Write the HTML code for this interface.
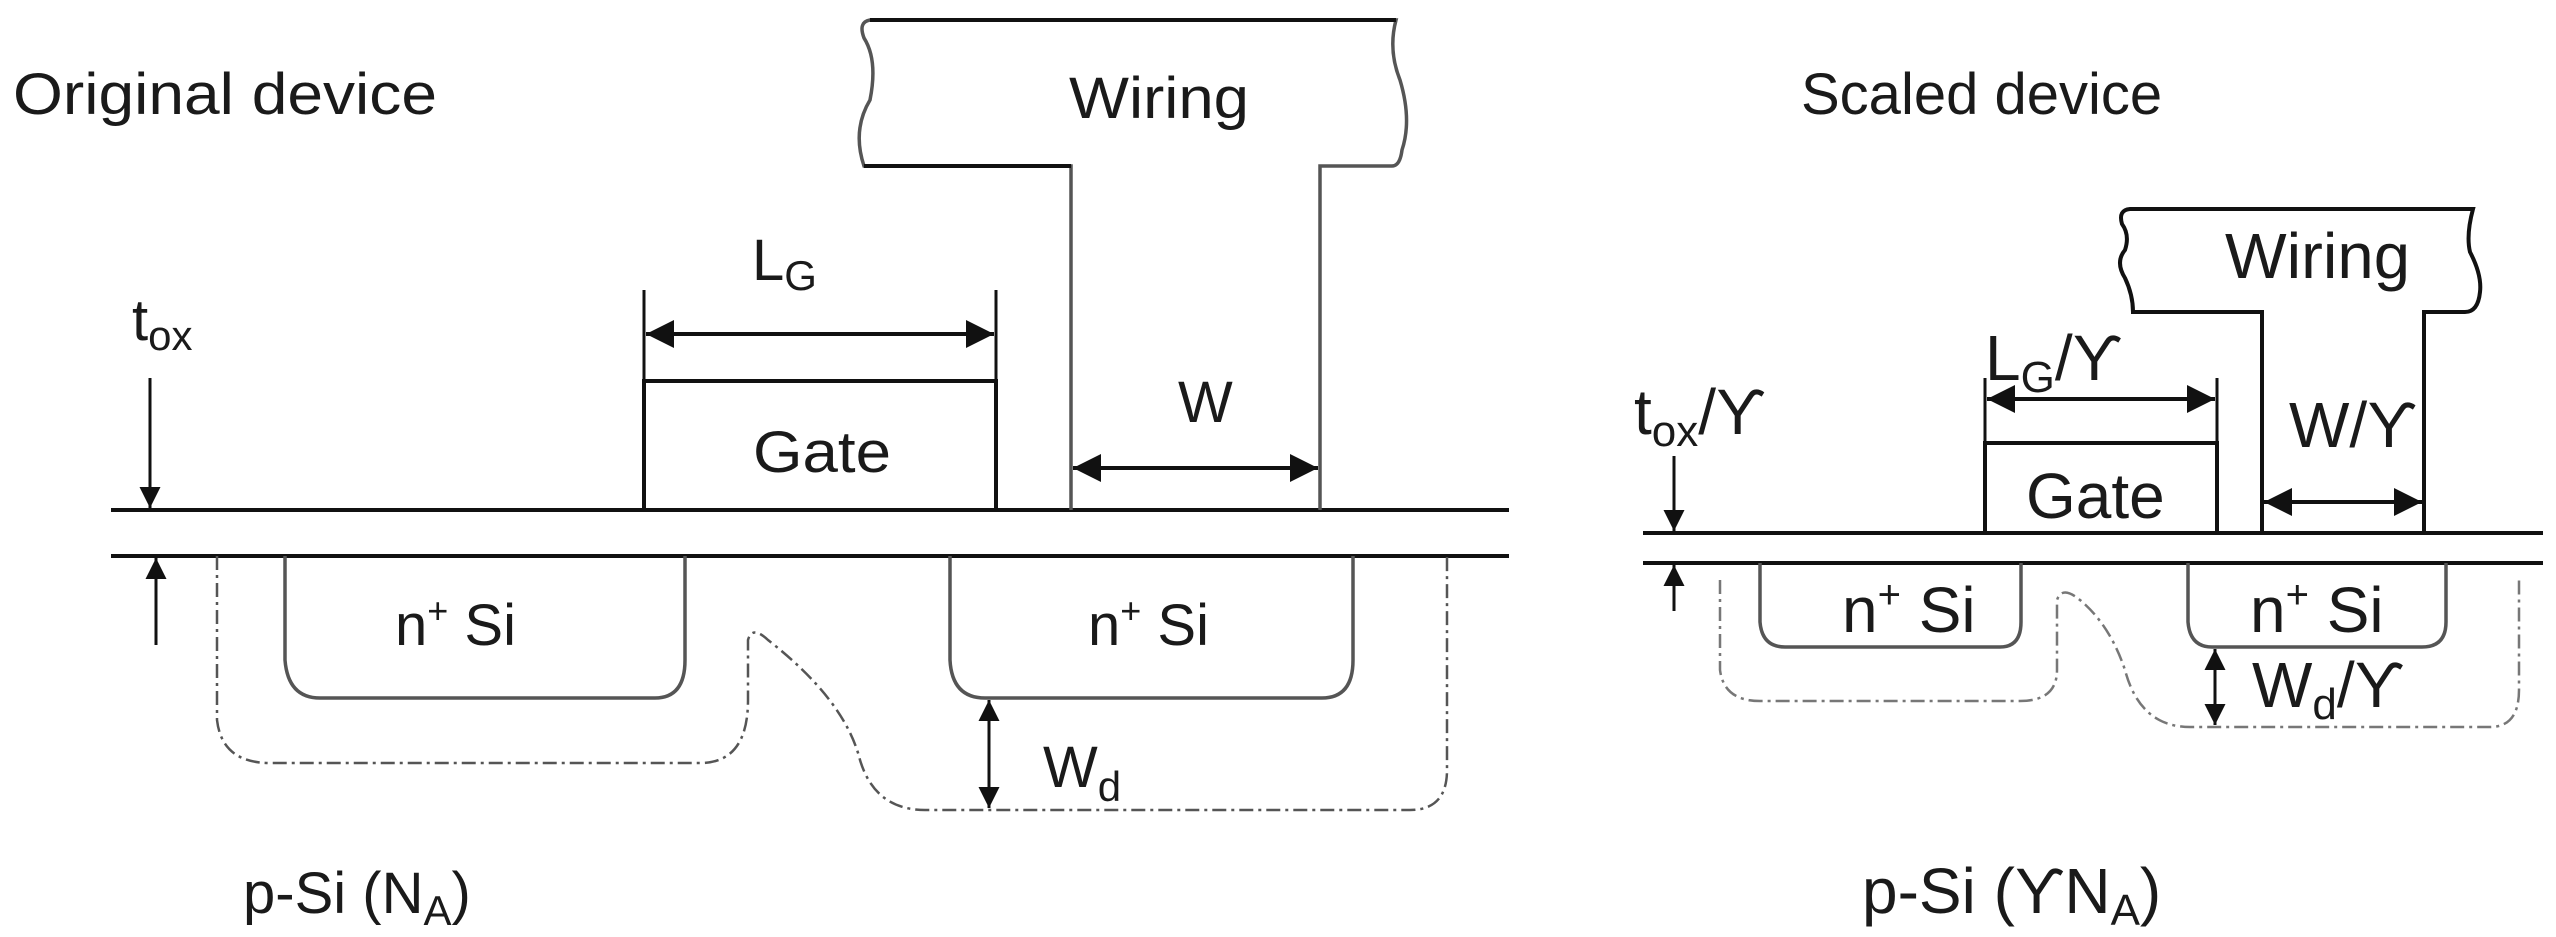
<!DOCTYPE html>
<html><head><meta charset="utf-8"><style>html,body{margin:0;padding:0;background:#fff}svg{display:block}</style></head>
<body>
<svg width="2556" height="937" viewBox="0 0 2556 937" xmlns="http://www.w3.org/2000/svg" font-family="Liberation Sans, sans-serif" fill="#1a1a1a">
<defs>
<marker id="ah" viewBox="0 0 10 10" refX="10" refY="5" markerWidth="7" markerHeight="7" orient="auto-start-reverse" markerUnits="strokeWidth"><path d="M0,0 L10,5 L0,10 z" fill="#111"/></marker>
</defs>
<g stroke="#111" stroke-width="4" fill="none">
<!-- LEFT DEVICE -->
<line x1="111" y1="510" x2="1509" y2="510"/>
<line x1="111" y1="556" x2="1509" y2="556"/>
<path d="M1071,510 V166 H864 Q852,130 870,100 Q878,60 864,38 Q858,22 870,20 H1396 Q1388,50 1400,80 Q1412,120 1402,150 Q1400,166 1392,166 H1320 V510" stroke="#555" stroke-width="3.5"/>
<path d="M864,166 H1071 M870,20 H1396" />
<rect x="644" y="381" width="352" height="129"/>
<line x1="644" y1="290" x2="644" y2="381" stroke-width="3"/>
<line x1="996" y1="290" x2="996" y2="381" stroke-width="3"/>
<line x1="646" y1="334" x2="994" y2="334" marker-start="url(#ah)" marker-end="url(#ah)"/>
<line x1="1073" y1="468" x2="1318" y2="468" marker-start="url(#ah)" marker-end="url(#ah)"/>
<line x1="150" y1="378" x2="150" y2="508" stroke-width="3" marker-end="url(#ah)"/>
<line x1="156" y1="645" x2="156" y2="558" stroke-width="3" marker-end="url(#ah)"/>
<path d="M285,556 V660 Q288,698 320,698 H655 Q685,698 685,660 V556" stroke="#555" stroke-width="3.5"/>
<path d="M950,556 V660 Q952,698 985,698 H1322 Q1353,698 1353,660 V556" stroke="#555" stroke-width="3.5"/>
<path d="M217,556 V720 Q222,763 270,763 H700 Q748,763 748,700 V640 Q752,625 768,640 Q845,700 860,760 Q875,810 925,810 H1410 Q1447,810 1447,770 V556" stroke="#555" stroke-width="2.5" stroke-dasharray="14,5,3,5"/>
<line x1="989" y1="700" x2="989" y2="808" stroke-width="3" marker-start="url(#ah)" marker-end="url(#ah)"/>

<!-- RIGHT DEVICE -->
<line x1="1643" y1="533" x2="2543" y2="533"/>
<line x1="1643" y1="563" x2="2543" y2="563"/>
<path d="M2262,533 V312 H2133 Q2133,295 2125,278 Q2115,262 2125,250 Q2130,235 2122,224 Q2118,210 2130,209 H2473 Q2466,235 2470,252 Q2482,275 2480,292 Q2478,312 2465,312 H2424 V533"/>
<rect x="1985" y="443" width="232" height="90"/>
<line x1="1985" y1="378" x2="1985" y2="443" stroke-width="3"/>
<line x1="2217" y1="378" x2="2217" y2="443" stroke-width="3"/>
<line x1="1987" y1="399" x2="2215" y2="399" marker-start="url(#ah)" marker-end="url(#ah)"/>
<line x1="2264" y1="502" x2="2422" y2="502" marker-start="url(#ah)" marker-end="url(#ah)"/>
<line x1="1674" y1="456" x2="1674" y2="531" stroke-width="3" marker-end="url(#ah)"/>
<line x1="1674" y1="611" x2="1674" y2="565" stroke-width="3" marker-end="url(#ah)"/>
<path d="M1760,563 V622 Q1762,647 1785,647 H2000 Q2021,647 2021,622 V563" stroke="#555" stroke-width="3.5"/>
<path d="M2188,563 V622 Q2190,647 2212,647 H2422 Q2446,647 2446,622 V563" stroke="#555" stroke-width="3.5"/>
<path d="M1720,580 V670 Q1724,701 1760,701 H2020 Q2057,701 2057,670 V600 Q2062,585 2080,600 Q2110,625 2125,670 Q2140,727 2190,727 H2490 Q2519,727 2519,690 V580" stroke="#777" stroke-width="2.5" stroke-dasharray="14,5,3,5"/>
<line x1="2215" y1="649" x2="2215" y2="725" stroke-width="3" marker-start="url(#ah)" marker-end="url(#ah)"/>
</g>

<g font-size="58">
<text x="13" y="114" textLength="424" lengthAdjust="spacingAndGlyphs">Original device</text>
<text x="1069" y="118" textLength="180" lengthAdjust="spacingAndGlyphs">Wiring</text>
<text x="752" y="280">L<tspan font-size="42" dy="10">G</tspan></text>
<text x="132" y="340">t<tspan font-size="42" dy="10">ox</tspan></text>
<text x="753" y="472" textLength="138" lengthAdjust="spacingAndGlyphs">Gate</text>
<text x="1178" y="422">W</text>
<text x="395" y="645">n<tspan font-size="36" dy="-22">+</tspan><tspan dy="22"> Si</tspan></text>
<text x="1088" y="645">n<tspan font-size="36" dy="-22">+</tspan><tspan dy="22"> Si</tspan></text>
<text x="1043" y="787">W<tspan font-size="42" dy="14">d</tspan></text>
<text x="243" y="913">p-Si (N<tspan font-size="42" dy="12">A</tspan><tspan dy="-12">)</tspan></text>

<text x="1801" y="114">Scaled device</text>
</g>
<g font-size="64">
<text x="2225" y="278" textLength="185" lengthAdjust="spacingAndGlyphs">Wiring</text>
<text x="1985" y="380">L<tspan font-size="44" dy="12">G</tspan><tspan dy="-12">/ϒ</tspan></text>
<text x="1634" y="434">t<tspan font-size="44" dy="12">ox</tspan><tspan dy="-12">/ϒ</tspan></text>
<text x="2026" y="518">Gate</text>
<text x="2289" y="447">W/ϒ</text>
<text x="1842" y="632">n<tspan font-size="40" dy="-24">+</tspan><tspan dy="24"> Si</tspan></text>
<text x="2250" y="632">n<tspan font-size="40" dy="-24">+</tspan><tspan dy="24"> Si</tspan></text>
<text x="2252" y="707">W<tspan font-size="44" dy="12">d</tspan><tspan dy="-12">/ϒ</tspan></text>
<text x="1862" y="913">p-Si (ϒN<tspan font-size="44" dy="12">A</tspan><tspan dy="-12">)</tspan></text>
</g>
</svg>
</body></html>
